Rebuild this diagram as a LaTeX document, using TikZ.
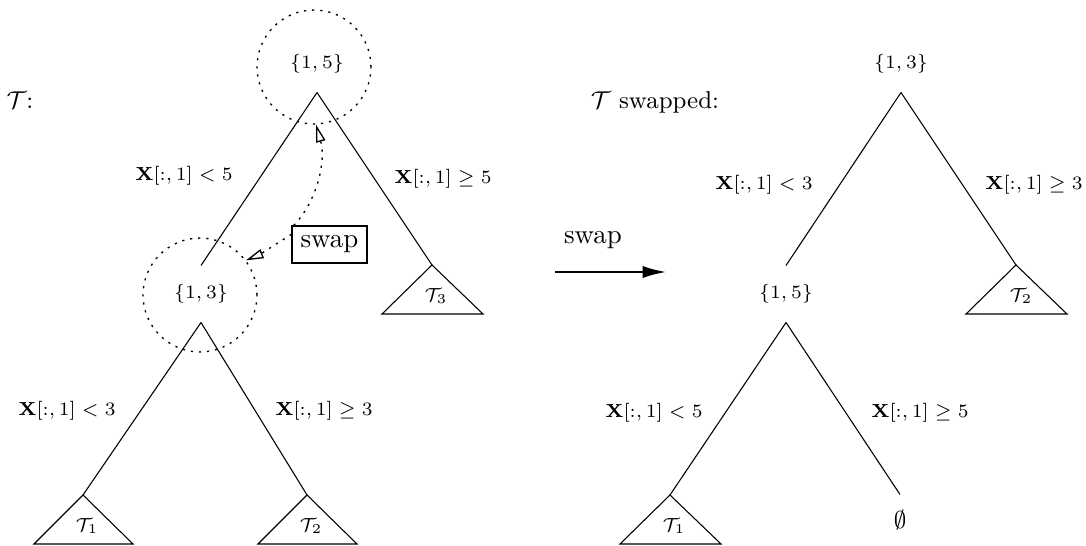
\documentclass[tikz,border=0pt]{standalone}
\usepackage{amsmath,amssymb}
\usetikzlibrary{arrows.meta,calc}
\newcommand{\smallfnt}{\fontsize{7.2}{8.5}\selectfont}
\newcommand{\mainfnt}{\fontsize{9}{11}\selectfont}
\begin{document}
\begin{tikzpicture}[x=0.37037pt,y=-0.37037pt,
  every node/.style={font=\mainfnt},
  split/.style={inner sep=0pt,minimum height=20.7pt,font=\smallfnt},
  lab/.style={font=\smallfnt,inner sep=0pt},
  tlab/.style={font=\smallfnt,inner sep=0pt},
  dots/.style={dash pattern=on 0.8pt off 2.2pt,line width=0.5pt},
  ring/.style={circle,draw,dots,minimum size=42.2pt,inner sep=0pt},
  hint/.style={dots,-{Triangle[open,length=6.5pt,width=3.5pt,line width=0.5pt]}},
  bigarrow/.style={line width=1.1pt,-{Latex[length=9pt,width=4.5pt]}}]

\useasboundingbox (0,0) rectangle (1086,546);

% ---------- left tree ----------
\node (tl) at (20,100) {$\mathcal{T}$:};
\node[split] (A) at (317,64) {$\{1,5\}$};
\node[ring] (Aring) at (314,67) {};
\node[split] (B) at (201,294) {$\{1,3\}$};
\node[ring] (Bring) at (200,295) {};
\coordinate (t3) at (432,265);
\coordinate (t1) at (83,495);
\coordinate (t2) at (307,495);
\draw (A.south) -- (B.north);
\draw (A.south) -- (t3);
\draw (B.south) -- (t1);
\draw (B.south) -- (t2);
\draw (t1) -- ++(-49,49) -- ++(99,0) -- cycle;
\draw (t2) -- ++(-49,49) -- ++(99,0) -- cycle;
\draw (t3) -- ++(-50,49) -- ++(101,0) -- cycle;
\node[tlab] (T1) at ($(t1)+(4,31)$) {$\mathcal{T}_1$};
\node[tlab] (T2) at ($(t2)+(4,31)$) {$\mathcal{T}_2$};
\node[tlab] (T3) at ($(t3)+(4,31)$) {$\mathcal{T}_3$};
\node[lab] (la1) at (184,176) {$\mathbf{X}[:,1] < 5$};
\node[lab] (la2) at (443,179) {$\mathbf{X}[:,1] \geq 5$};
\node[lab] (la3) at (67,411) {$\mathbf{X}[:,1] < 3$};
\node[lab] (la4) at (324,411) {$\mathbf{X}[:,1] \geq 3$};

\node[draw,minimum width=27.8pt,minimum height=13.7pt,inner sep=0pt] (sw) at (329.5,244.5) {\fontsize{10}{12}\selectfont swap};
\draw[hint] (sw.152) .. controls (318,200) and (326,160) .. (Aring.-88);
\draw[hint] (sw.165) .. controls (259,255) .. (Bring.37);

% ---------- middle arrow ----------
\coordinate (m1) at (555,272);
\coordinate (m2) at (667,272);
\draw[bigarrow] (m1) -- (m2);
\node (swl) at (593,240) {\fontsize{10}{12}\selectfont swap};

% ---------- right tree ----------
\node (tr) at (655,102) {$\mathcal{T}$ swapped:};
\node[split] (C) at (901,64) {$\{1,3\}$};
\node[split] (D) at (786,294) {$\{1,5\}$};
\coordinate (u2) at (1016,265);
\coordinate (u1) at (670,495);
\node[inner sep=0pt,minimum height=18.5pt] (E) at (900,520) {$\emptyset$};
\draw (C.south) -- (D.north);
\draw (C.south) -- (u2);
\draw (D.south) -- (u1);
\draw (D.south) -- (E.north);
\draw (u1) -- ++(-50,49) -- ++(101,0) -- cycle;
\draw (u2) -- ++(-50,49) -- ++(101,0) -- cycle;
\node[tlab] (U1) at ($(u1)+(4,31)$) {$\mathcal{T}_1$};
\node[tlab] (U2) at ($(u2)+(5,31)$) {$\mathcal{T}_2$};
\node[lab] (lb1) at (764,185) {$\mathbf{X}[:,1] < 3$};
\node[lab] (lb2) at (1034,185) {$\mathbf{X}[:,1] \geq 3$};
\node[lab] (lb3) at (654,413) {$\mathbf{X}[:,1] < 5$};
\node[lab] (lb4) at (920,413) {$\mathbf{X}[:,1] \geq 5$};
\end{tikzpicture}
\end{document}
